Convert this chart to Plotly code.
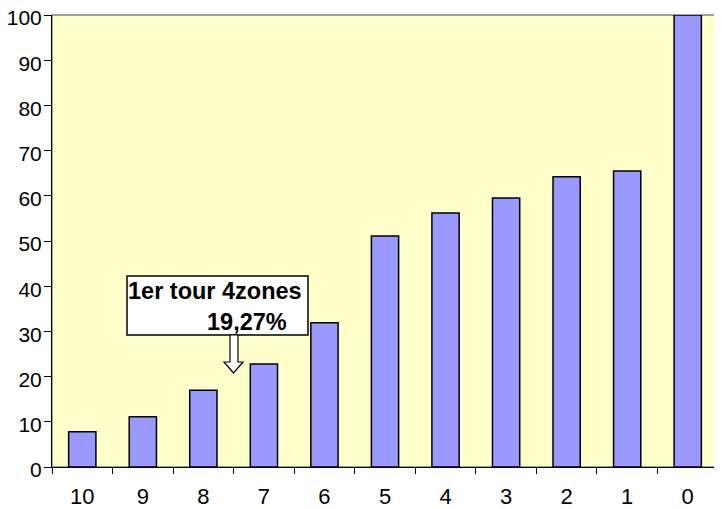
import plotly.graph_objects as go

categories = ["10", "9", "8", "7", "6", "5", "4", "3", "2", "1", "0"]
values = [7.8, 11.1, 17.0, 22.8, 31.9, 51.1, 56.2, 59.5, 64.2, 65.5, 100]
y_ticks = [0, 10, 20, 30, 40, 50, 60, 70, 80, 90, 100]
note_line1 = "1er tour 4zones"
note_line2 = "19,27%"

# page body has an 8px margin, so the figure is offset by 8px
OFF = 8
W, H = 722 - OFF, 509 - OFF
PL, PT, PR, PB = 52, 15, 718, 467          # plot area in page pixels
L, T = PL - OFF, PT - OFF
R = W - (PR - OFF)
B = H - (PB - OFF)
pw, ph = PR - PL, PB - PT

def px(x):
    return (x - PL) / pw

def py(y):
    return (PB - y) / ph

fig = go.Figure(go.Bar(
    x=categories, y=values, width=0.45,
    marker=dict(color="#9999FF", line=dict(color="black", width=1.5)),
))

fam = "Liberation Sans, Arial, sans-serif"
yfont = dict(family=fam, size=21, color="black")
xfont = dict(family=fam, size=22, color="black")

fig.update_layout(
    width=W, height=H,
    margin=dict(l=L, r=R, t=T, b=B, autoexpand=False),
    paper_bgcolor="white", plot_bgcolor="#FFFFCC",
    showlegend=False, font=yfont,
    xaxis=dict(type="category", tickson="boundaries", ticks="outside", ticklen=6,
               tickcolor="black", showline=True, linecolor="black", linewidth=1,
               showgrid=False, tickfont=xfont, ticklabelstandoff=10, automargin=False),
    yaxis=dict(range=[0, 100], tickvals=y_ticks, ticks="outside", ticklen=7,
               tickcolor="black", showline=True, linecolor="black", linewidth=1,
               showgrid=False, zeroline=False, tickfont=yfont, automargin=False,
               ticklabelstandoff=-2, ticklabelshift=3, ticklabeloverflow="allow"),
)

# plot frame (top and right)
fig.add_shape(type="rect", xref="paper", yref="paper", x0=0, x1=1, y0=0, y1=1,
              line=dict(color="#808080", width=1.5), layer="below")

# annotation box
fig.add_shape(type="rect", xref="paper", yref="paper",
              x0=px(127), x1=px(308), y0=py(335), y1=py(276),
              line=dict(color="black", width=1.5), fillcolor="white")
bold = dict(family=fam, size=23.5, color="black")
fig.add_annotation(xref="paper", yref="paper", x=px(126), y=py(291),
                   text="<b>" + note_line1 + "</b>", showarrow=False,
                   xanchor="left", yanchor="middle", font=bold)
fig.add_annotation(xref="paper", yref="paper", x=px(289), y=py(322),
                   text="<b>" + note_line2 + "</b>", showarrow=False,
                   xanchor="right", yanchor="middle", font=bold)

# hollow block arrow
xs = [230, 238, 238, 243, 233.5, 224, 230, 230]
ys = [335, 335, 362, 362, 373, 362, 362, 335]
path = "M " + " L ".join(f"{px(a)},{py(b)}" for a, b in zip(xs, ys)) + " Z"
fig.add_shape(type="path", xref="paper", yref="paper", path=path,
              line=dict(color="black", width=1.2), fillcolor="white")

fig.write_html("out.html")
